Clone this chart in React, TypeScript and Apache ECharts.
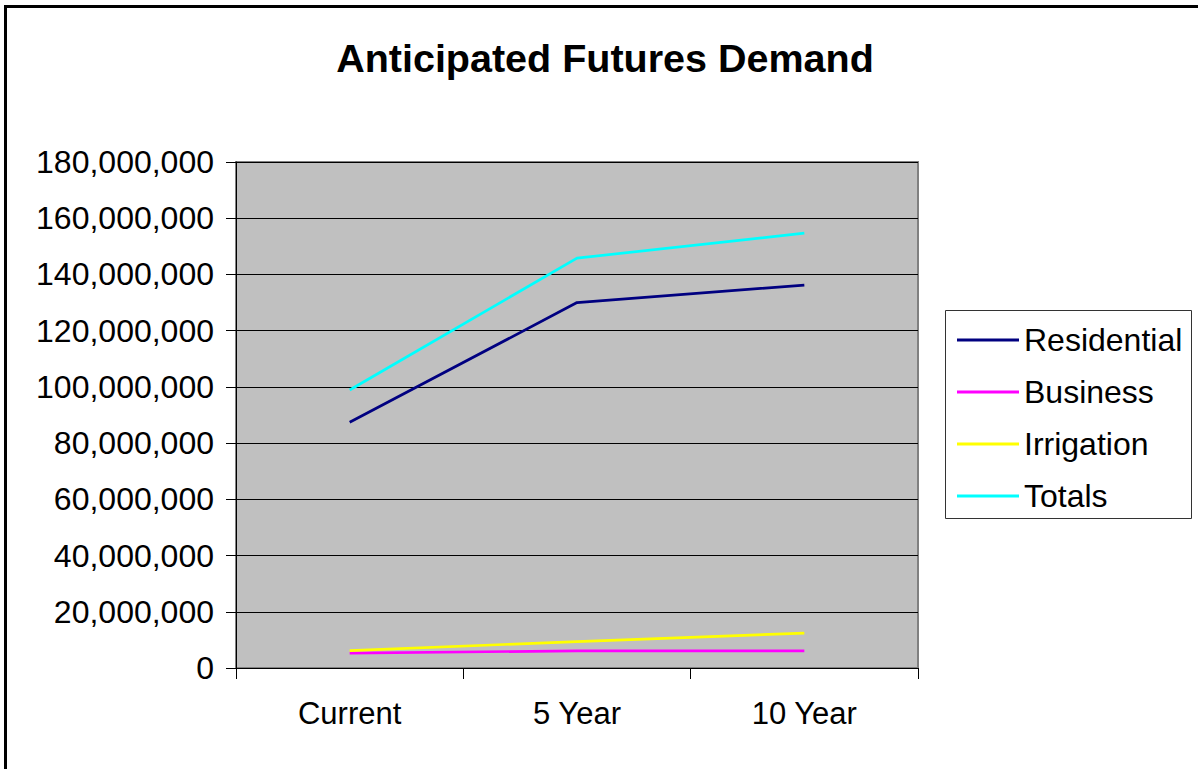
import React, { useEffect, useRef } from "react";
import * as echarts from "echarts";

const categories = ["Current", "5 Year", "10 Year"];
const residential = [87400000, 130000000, 136200000];
const business = [5300000, 6100000, 6100000];
const irrigation = [6200000, 9400000, 12400000];
const totals = [98900000, 145800000, 154700000];
const seriesNames = ["Residential", "Business", "Irrigation", "Totals"];
const seriesColors = ["#000080", "#FF00FF", "#FFFF00", "#00FFFF"];

const FONT = "'Liberation Sans', Arial, Helvetica, sans-serif";

export default function App() {
  const ref = useRef<HTMLDivElement>(null);
  useEffect(() => {
    if (!ref.current) return;
    const chart = echarts.init(ref.current, undefined, { renderer: "svg" });
    const data = [residential, business, irrigation, totals];
    chart.setOption({
      animation: false,
      backgroundColor: "#FFFFFF",
      textStyle: { fontFamily: FONT },
      title: {
        text: "Anticipated Futures Demand",
        left: 605,
        textAlign: "center",
        top: 38,
        padding: 0,
        textStyle: { fontFamily: FONT, fontSize: 39.5, fontWeight: "bold", color: "#000", lineHeight: 39 },
      },
      graphic: [
        {
          type: "rect",
          shape: { x: 5.5, y: 6.5, width: 1300, height: 1000 },
          style: { fill: "none", stroke: "#000", lineWidth: 3 },
          silent: true,
        },
        {
          type: "rect",
          shape: { x: 945.5, y: 310.5, width: 246, height: 208 },
          style: { fill: "#FFFFFF", stroke: "#333", lineWidth: 1 },
          silent: true,
          z: -1,
        },
      ],
      legend: {
        orient: "vertical",
        left: 957,
        top: 324,
        padding: 0,
        itemWidth: 62,
        itemHeight: 3,
        itemGap: 20,
        icon: "rect",
        data: seriesNames,
        textStyle: { fontFamily: FONT, fontSize: 32, color: "#000", lineHeight: 32, padding: [0, 0, 0, 0] },
      },
      grid: {
        left: 236,
        top: 162,
        right: 280,
        bottom: 101,
        show: true,
        backgroundColor: "#C0C0C0",
        borderColor: "#808080",
        borderWidth: 2,
      },
      xAxis: {
        type: "category",
        data: categories,
        boundaryGap: true,
        axisLine: { show: true, lineStyle: { color: "#000", width: 1 } },
        axisTick: { show: true, length: 11, interval: 0, lineStyle: { color: "#000", width: 1 } },
        axisLabel: { fontFamily: FONT, fontSize: 31, color: "#000", margin: 30 },
        splitLine: { show: false },
      },
      yAxis: {
        type: "value",
        min: 0,
        max: 180000000,
        interval: 20000000,
        axisLine: { show: true, lineStyle: { color: "#000", width: 1 } },
        axisTick: { show: true, length: 10, lineStyle: { color: "#000", width: 1 } },
        axisLabel: {
          fontFamily: FONT,
          fontSize: 32,
          color: "#000",
          margin: 22,
          formatter: (v: number) => v.toLocaleString("en-US"),
        },
        splitLine: { show: true, lineStyle: { color: "#000", width: 1 } },
      },
      series: seriesNames.map((name, i) => ({
        name,
        type: "line",
        data: data[i],
        symbol: "none",
        showSymbol: false,
        color: seriesColors[i],
        lineStyle: { color: seriesColors[i], width: 2.7 },
        z: 3,
      })),
    });
    return () => chart.dispose();
  }, []);
  return (
    <div
      ref={ref}
      style={{ position: "fixed", left: 0, top: 0, width: 1198, height: 769 }}
    />
  );
}
